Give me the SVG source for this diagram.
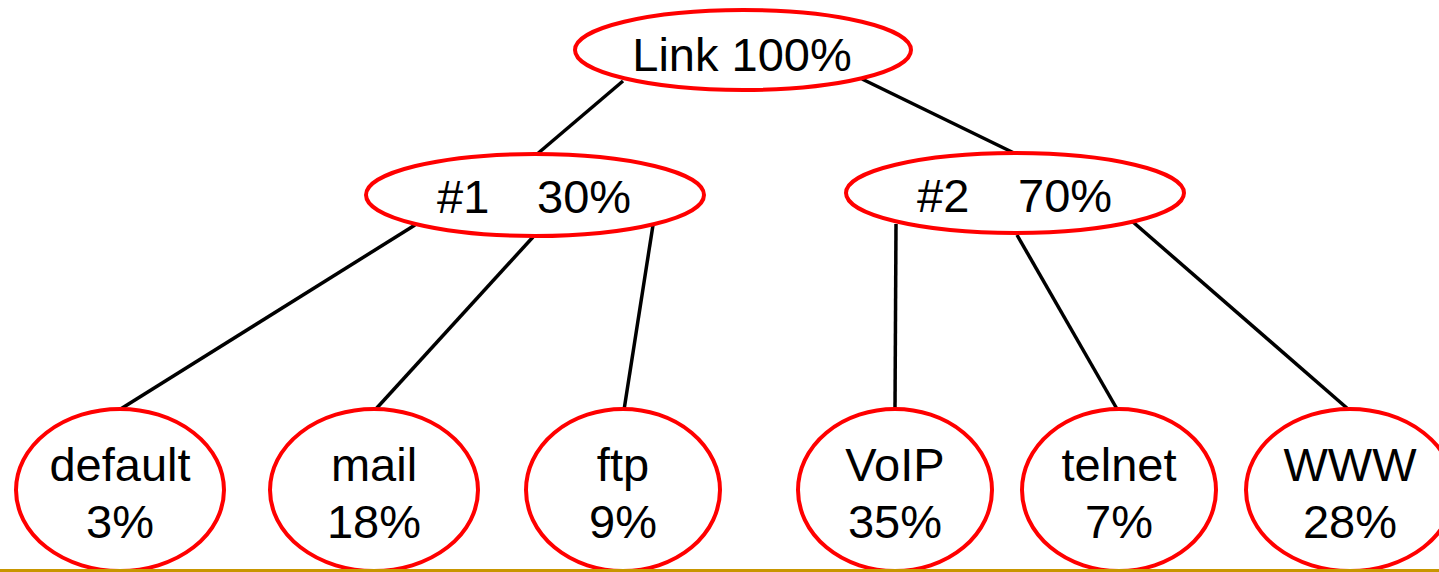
<svg xmlns="http://www.w3.org/2000/svg" width="1439" height="572" viewBox="0 0 1439 572">
<style>
.n{fill:#fff;stroke:#ff0000;stroke-width:4}
.t{font-family:"Liberation Sans",Arial,sans-serif;font-size:47px;fill:#000}
.c{text-anchor:middle}
.e line{stroke:#000;stroke-width:3.5}
</style>
<rect width="1439" height="572" fill="#fff"/>
<g class="e" id="connectors">
<line x1="623" y1="81" x2="536" y2="155"/>
<line x1="862" y1="79" x2="1014" y2="153"/>
<line x1="415" y1="225" x2="119" y2="410"/>
<line x1="533" y1="237" x2="375" y2="410"/>
<line x1="653" y1="225" x2="624" y2="410"/>
<line x1="896" y1="224" x2="895" y2="410"/>
<line x1="1017" y1="235" x2="1117" y2="409"/>
<line x1="1133" y1="222" x2="1348" y2="409"/>
</g>
<g id="root"><ellipse class="n" cx="743" cy="50" rx="168" ry="40"/><text class="t c" x="742" y="71">Link 100%</text></g>
<g id="n1"><ellipse class="n" cx="535" cy="195" rx="169" ry="41"/><text class="t" x="437" y="213">#1</text><text class="t" x="537" y="213">30%</text></g>
<g id="n2"><ellipse class="n" cx="1015" cy="193" rx="169" ry="40"/><text class="t" x="917" y="212">#2</text><text class="t" x="1018" y="212">70%</text></g>
<g id="default"><ellipse class="n" cx="120" cy="490" rx="104" ry="81"/><text class="t c" x="120" y="481">default</text><text class="t c" x="120" y="538">3%</text></g>
<g id="mail"><ellipse class="n" cx="374" cy="490" rx="104" ry="81"/><text class="t c" x="374" y="481">mail</text><text class="t c" x="374" y="538">18%</text></g>
<g id="ftp"><ellipse class="n" cx="623" cy="490" rx="97" ry="81"/><text class="t c" x="623" y="481">ftp</text><text class="t c" x="623" y="538">9%</text></g>
<g id="voip"><ellipse class="n" cx="895" cy="490" rx="97" ry="81"/><text class="t c" x="895" y="481">VoIP</text><text class="t c" x="895" y="538">35%</text></g>
<g id="telnet"><ellipse class="n" cx="1119" cy="490" rx="97" ry="81"/><text class="t c" x="1119" y="481">telnet</text><text class="t c" x="1119" y="538">7%</text></g>
<g id="www"><ellipse class="n" cx="1350" cy="490" rx="104" ry="81"/><text class="t c" x="1350" y="481">WWW</text><text class="t c" x="1350" y="538">28%</text></g>
<rect x="0" y="569" width="1439" height="3" fill="#c89600"/>
</svg>
